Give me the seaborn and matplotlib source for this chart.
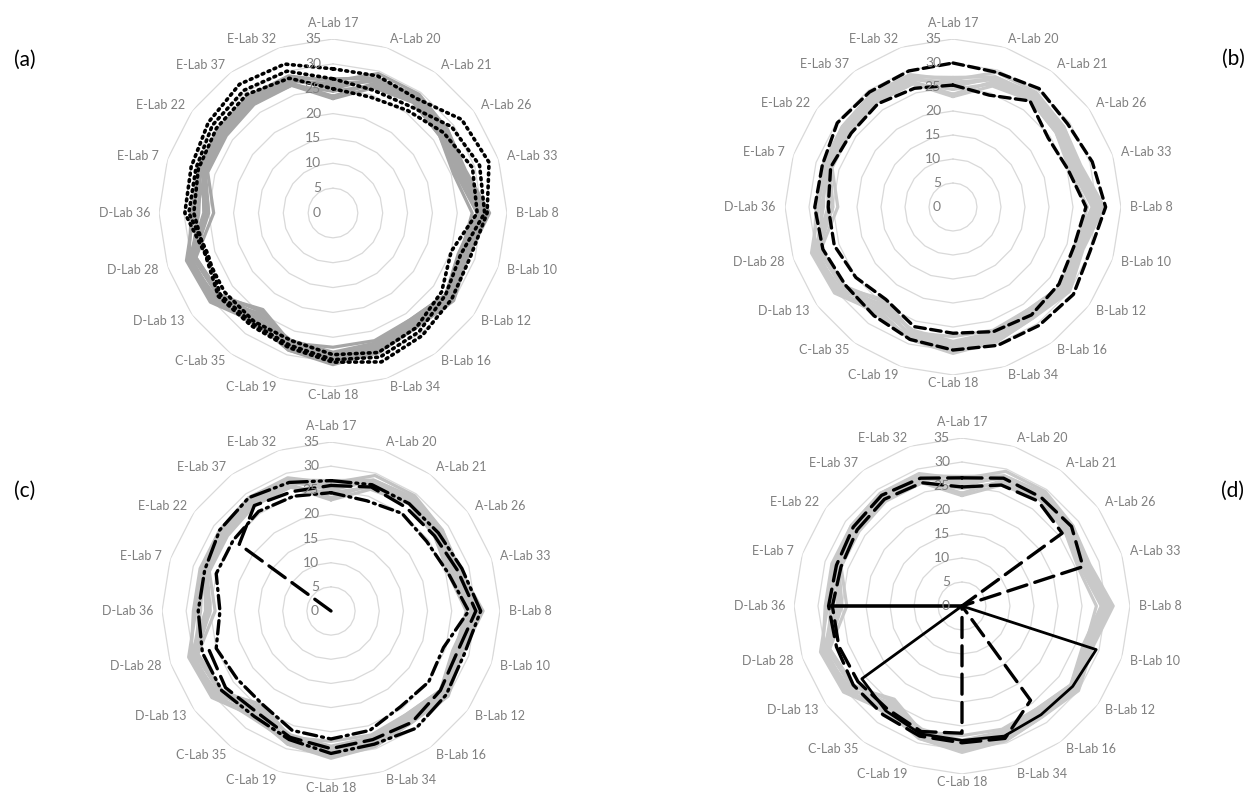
import numpy as np
import pandas as pd
import matplotlib
matplotlib.use("Agg")
import matplotlib.pyplot as plt
import seaborn as sns

# ---- categories (laboratories) and radial scale ----
labs = ["A-Lab 17", "A-Lab 20", "A-Lab 21", "A-Lab 26", "A-Lab 33",
        "B-Lab 8", "B-Lab 10", "B-Lab 12", "B-Lab 16", "B-Lab 34",
        "C-Lab 18", "C-Lab 19", "C-Lab 35", "D-Lab 13", "D-Lab 28",
        "D-Lab 36", "E-Lab 7", "E-Lab 22", "E-Lab 37", "E-Lab 32"]
radial_ticks = [0, 5, 10, 15, 20, 25, 30, 35]
panel_letters = ["(a)", "(b)", "(c)", "(d)"]

# ---- reference samples (grey bundle, same in every panel) ----
gray_1 = [26.5, 29.5, 29.5, 28.5, 28.0, 31.5, 28.5, 30.0, 28.5, 29.5, 30.5, 29.0, 26.5, 30.0, 30.5, 28.5, 28.5, 28.5, 29.0, 29.0]
gray_2 = [25.0, 28.5, 29.0, 28.0, 27.5, 30.5, 28.0, 29.5, 28.0, 29.0, 29.5, 28.5, 25.0, 29.5, 30.0, 27.0, 28.0, 28.0, 28.5, 28.5]
gray_3 = [23.5, 27.5, 28.0, 27.0, 26.5, 29.5, 27.0, 28.5, 27.0, 28.0, 28.5, 27.5, 24.0, 28.5, 29.5, 25.0, 27.0, 27.0, 27.5, 27.5]
gray_4 = [26.0, 28.0, 28.5, 27.5, 27.0, 30.0, 27.5, 29.0, 27.5, 28.5, 29.0, 28.0, 26.0, 29.0, 30.5, 26.0, 27.5, 27.5, 28.0, 28.0]
gray_5 = [24.5, 27.0, 27.5, 26.5, 26.0, 29.0, 26.5, 28.0, 26.5, 27.5, 28.0, 27.0, 25.5, 28.0, 29.0, 24.0, 26.5, 26.5, 27.0, 27.0]
gray_6 = [27.0, 28.5, 29.0, 28.5, 27.5, 31.0, 28.0, 29.5, 28.5, 29.5, 30.0, 29.0, 27.0, 30.5, 31.0, 28.0, 28.0, 28.5, 29.0, 28.5]
gray_7 = [23.0, 26.5, 27.5, 26.5, 25.5, 28.0, 27.0, 28.0, 26.5, 27.0, 27.0, 27.5, 24.5, 28.0, 29.0, 27.5, 27.0, 27.0, 27.5, 27.0]
gray_8 = [25.5, 28.0, 28.5, 27.5, 27.0, 30.0, 27.0, 29.0, 27.0, 28.5, 29.5, 28.5, 27.5, 29.5, 30.0, 25.5, 27.5, 27.5, 28.0, 28.0]
gray_series = [gray_1, gray_2, gray_3, gray_4, gray_5, gray_6, gray_7, gray_8]

# ---- highlighted samples per panel ----
a_dot_1 = [29.0, 29.0, 28.5, 32.0, 33.0, 31.0, 29.0, 29.5, 30.5, 31.5, 30.0, 28.5, 28.0, 28.5, 27.0, 29.8, 30.0, 31.0, 32.0, 31.5]
a_dot_2 = [27.0, 26.0, 26.5, 29.5, 31.0, 30.5, 27.0, 28.0, 29.5, 30.5, 29.5, 28.0, 27.5, 28.0, 26.5, 29.0, 29.0, 30.0, 30.5, 30.0]
a_dot_3 = [25.0, 24.5, 25.5, 27.5, 29.5, 29.0, 25.0, 27.0, 28.5, 29.5, 28.5, 27.0, 27.0, 27.0, 27.0, 28.0, 28.5, 29.0, 29.5, 28.5]

b_dash_1 = [30.0, 29.5, 30.5, 29.5, 30.5, 31.8, 30.0, 31.0, 30.5, 30.3, 29.8, 29.0, 28.0, 27.7, 28.5, 28.8, 28.6, 29.8, 29.6, 29.8]
b_dash_2 = [25.4, 24.5, 27.3, 24.5, 25.2, 27.7, 26.5, 27.3, 27.8, 27.3, 26.3, 26.2, 23.8, 25.0, 26.0, 26.0, 26.8, 26.2, 26.6, 26.0]

c_ddd = [27.0, 27.5, 27.5, 27.5, 28.5, 31.0, 29.0, 29.5, 30.0, 29.0, 29.5, 28.0, 27.0, 28.0, 28.0, 27.5, 27.5, 28.5, 29.0, 28.0]
c_dash = [26.0, 27.0, 26.5, 26.5, 27.5, 30.0, 27.5, 28.0, 28.5, 28.0, 28.5, 27.5, 26.0, 27.0, 26.5, np.nan, 0.0, 23.5, 27.0, 26.0]
c_dashdot = [24.5, 24.0, 25.0, 24.5, 25.5, 28.5, 24.5, 25.0, 24.5, 26.0, 26.5, 26.0, 24.0, 24.0, 25.0, 23.0, 25.0, 25.0, 25.5, 25.0]

d_dash_1 = [26.7, 28.0, 28.0, 28.2, 26.5, 0.0, 0.0, 0.0, 24.3, 29.0, 28.5, 28.5, 28.0, 28.0, 27.5, 27.8, 27.5, 28.0, 28.5, 28.0]
d_dash_2 = [24.8, 26.5, 27.0, 25.8, 0.0, 0.0, 0.0, 0.0, 0.0, 0.0, 26.5, 27.5, 26.5, 26.8, 27.0, 27.0, 26.5, 27.0, 27.5, 27.0]
d_solid = [0.0, 0.0, 0.0, 0.0, 0.0, 0.0, 29.4, 28.5, 28.0, 28.5, 28.0, 28.0, 27.0, 25.8, 0.0, 27.5, 0.0, 0.0, 0.0, 0.0]

DOT = (0, (0.5, 1.3))
DASH = (0, (3.2, 1.6))
LONGDASH = (0, (6, 2.5))
DASHDOTDOT = (0, (6, 1.5, 0.6, 1.5, 0.6, 1.5))
DASHDOT = (0, (4, 1.5, 0.6, 1.5))

panels = [
    dict(center=(333, 213), radius=174, gray="#a6a6a6",
         highlights=[(a_dot_1, DOT, 2.6), (a_dot_2, DOT, 2.6), (a_dot_3, DOT, 2.6)]),
    dict(center=(953, 207), radius=168, gray="#c9c9c9",
         highlights=[(b_dash_1, DASH, 2.4), (b_dash_2, DASH, 2.4)]),
    dict(center=(331, 611), radius=169, gray="#c2c2c2",
         highlights=[(c_ddd, DASHDOTDOT, 2.4), (c_dash, LONGDASH, 2.4), (c_dashdot, DASHDOT, 2.4)]),
    dict(center=(962, 606), radius=168, gray="#c9c9c9",
         highlights=[(d_dash_1, LONGDASH, 2.4), (d_dash_2, LONGDASH, 2.4), (d_solid, "-", 2.0)]),
]
letter_pos = [(25, 60), (1233, 59), (25, 491), (1233, 491)]

sns.set_theme(style="white")
plt.rcParams["font.family"] = ["Lato", "DejaVu Sans"]

W, H = 1258, 796
fig = plt.figure(figsize=(W / 100, H / 100), dpi=100)
fig.patch.set_facecolor("white")

n = len(labs)
theta = np.linspace(0, 2 * np.pi, n, endpoint=False)
theta_closed = np.append(theta, 2 * np.pi)
label_color = "#7f7f7f"
px_to_pt = 72 / 100


def series_frame(values):
    """Closed polygon as long-form data; NaN cells split the line into segments."""
    vals = list(values) + [values[0]]
    df = pd.DataFrame({"theta": theta_closed, "value": vals})
    df["seg"] = df["value"].isna().cumsum()
    return df.dropna()


def radar(ax, spec):
    ax.set_theta_zero_location("N")
    ax.set_theta_direction(-1)
    ax.set_ylim(0, 35)
    ax.grid(False)
    ax.spines["polar"].set_visible(False)
    ax.set_facecolor("none")

    # polygonal value rings
    for t in radial_ticks[1:]:
        ax.plot(theta_closed, [t] * (n + 1), color="#d9d9d9", lw=0.9, zorder=1)

    for g in gray_series:
        sns.lineplot(data=series_frame(g), x="theta", y="value", units="seg",
                     estimator=None, sort=False, color=spec["gray"], lw=2.3,
                     ax=ax, zorder=2)
    for vals, ls, lw in spec["highlights"]:
        sns.lineplot(data=series_frame(vals), x="theta", y="value", units="seg",
                     estimator=None, sort=False, color="black", lw=lw,
                     linestyle=ls, dash_capstyle="round", ax=ax, zorder=3)

    ax.set_xticks([])
    ax.set_yticks([])
    ax.set_xlabel("")
    ax.set_ylabel("")

    # radial value labels along the top axis
    for t in radial_ticks:
        ax.annotate(str(t), xy=(0, t), xytext=(-12 * px_to_pt, 0),
                    textcoords="offset points", ha="right", va="center",
                    fontsize=10, color=label_color, zorder=4)

    # category labels around the outer ring
    for th, lab in zip(theta, labs):
        s, c = np.sin(th), np.cos(th)
        if s > 0.2:
            ha = "left"
        elif s < -0.2:
            ha = "right"
        else:
            ha = "center"
        if abs(s) < 0.2:
            off = (16 if c > 0 else 8) * px_to_pt
        else:
            off = 9 * px_to_pt
        ax.annotate(lab, xy=(th, 35), xytext=(off * s, off * c),
                    textcoords="offset points", ha=ha, va="center",
                    fontsize=9, color=label_color, annotation_clip=False)


for spec, letter, (lx, ly) in zip(panels, panel_letters, letter_pos):
    cx, cy = spec["center"]
    r = spec["radius"]
    ax = fig.add_axes([(cx - r) / W, (H - cy - r) / H, 2 * r / W, 2 * r / H],
                      projection="polar")
    radar(ax, spec)
    fig.text(lx / W, 1 - ly / H, letter, ha="center", va="center",
             fontsize=15, color="black")

fig.savefig("out.png", dpi=100, facecolor="white")
